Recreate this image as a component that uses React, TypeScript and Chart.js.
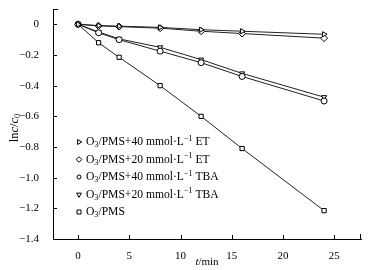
import React, { useEffect, useRef } from "react";
import { Chart, registerables } from "chart.js";

Chart.register(...registerables);

const times = [0, 2, 4, 8, 12, 16, 24];
const et40 = [0, -0.008, -0.012, -0.02, -0.035, -0.045, -0.065];
const et20 = [0, -0.01, -0.015, -0.025, -0.045, -0.06, -0.09];
const tba40 = [0, -0.055, -0.1, -0.175, -0.25, -0.34, -0.5];
const tba20 = [0, -0.05, -0.095, -0.15, -0.23, -0.32, -0.475];
const pms = [0, -0.12, -0.215, -0.4, -0.6, -0.81, -1.215];

const xTickVals = [0, 5, 10, 15, 20, 25];
const yTickVals = [0, -0.2, -0.4, -0.6, -0.8, -1.0, -1.2, -1.4];

type Seg = { t: string; s?: "sub" | "sup"; i?: boolean };

const legendLabels: Seg[][] = [
  [{ t: "O" }, { t: "3", s: "sub" }, { t: "/PMS+40 mmol·L" }, { t: "−1", s: "sup" }, { t: " ET" }],
  [{ t: "O" }, { t: "3", s: "sub" }, { t: "/PMS+20 mmol·L" }, { t: "−1", s: "sup" }, { t: " ET" }],
  [{ t: "O" }, { t: "3", s: "sub" }, { t: "/PMS+40 mmol·L" }, { t: "−1", s: "sup" }, { t: " TBA" }],
  [{ t: "O" }, { t: "3", s: "sub" }, { t: "/PMS+20 mmol·L" }, { t: "−1", s: "sup" }, { t: " TBA" }],
  [{ t: "O" }, { t: "3", s: "sub" }, { t: "/PMS" }],
];

const FONT = "'Liberation Serif', 'Times New Roman', serif";

function segFont(size: number, seg: Seg) {
  const sz = seg.s ? size * 0.7 : size;
  return `${seg.i ? "italic " : ""}${sz}px ${FONT}`;
}

function richWidth(ctx: CanvasRenderingContext2D, segs: Seg[], size: number) {
  let w = 0;
  for (const s of segs) {
    ctx.font = segFont(size, s);
    w += ctx.measureText(s.t).width;
  }
  return w;
}

function drawRich(ctx: CanvasRenderingContext2D, segs: Seg[], x: number, y: number, size: number) {
  let cx = x;
  ctx.textBaseline = "middle";
  ctx.textAlign = "left";
  for (const s of segs) {
    ctx.font = segFont(size, s);
    const dy = s.s === "sub" ? size * 0.25 : s.s === "sup" ? -size * 0.3 : 0;
    ctx.fillText(s.t, cx, y + dy);
    cx += ctx.measureText(s.t).width;
  }
}

const decorPlugin = {
  id: "decor",
  afterDraw(chart: any) {
    const ctx: CanvasRenderingContext2D = chart.ctx;
    const { left, right, top, bottom } = chart.chartArea;
    const xs = chart.scales.x;
    const ys = chart.scales.y;
    ctx.save();
    ctx.strokeStyle = "#000";
    ctx.lineWidth = 1;
    ctx.beginPath();
    xs.ticks.forEach((t: any) => {
      const px = Math.round(xs.getPixelForValue(t.value)) + 0.5;
      ctx.moveTo(px, bottom);
      ctx.lineTo(px, bottom - 4);
    });
    ctx.moveTo(Math.round(right) - 0.5, bottom);
    ctx.lineTo(Math.round(right) - 0.5, bottom - 5);
    ys.ticks.forEach((t: any) => {
      const py = Math.round(ys.getPixelForValue(t.value)) + 0.5;
      ctx.moveTo(left, py);
      ctx.lineTo(left + 4, py);
    });
    ctx.moveTo(left, Math.round(top) + 0.5);
    ctx.lineTo(left + 5, Math.round(top) + 0.5);
    ctx.stroke();

    ctx.fillStyle = "#000";
    const xt: Seg[] = [{ t: "t", i: true }, { t: "/min" }];
    const xw = richWidth(ctx, xt, 11);
    drawRich(ctx, xt, 207 - xw / 2, 262.5, 11);
    const yt: Seg[] = [{ t: "ln" }, { t: "c", i: true }, { t: "/" }, { t: "c", i: true }, { t: "0", s: "sub" }];
    const yw = richWidth(ctx, yt, 12.5);
    ctx.save();
    ctx.translate(15, 128);
    ctx.rotate(-Math.PI / 2);
    drawRich(ctx, yt, -yw / 2, 0, 12.5);
    ctx.restore();

    const ys0 = [142, 159.5, 177, 194.5, 212];
    chart.data.datasets.forEach((ds: any, k: number) => {
      const y = ys0[k];
      const x = 79;
      ctx.save();
      ctx.translate(x, y);
      ctx.rotate(((ds.pointRotation || 0) * Math.PI) / 180);
      ctx.strokeStyle = "#000";
      ctx.fillStyle = "#fff";
      ctx.lineWidth = 1;
      const r = 2;
      ctx.beginPath();
      const st = ds.pointStyle;
      if (st === "circle") {
        ctx.arc(0, 0, r, 0, Math.PI * 2);
      } else if (st === "rect") {
        ctx.rect(-r, -r, 2 * r, 2 * r);
      } else if (st === "rectRot") {
        ctx.moveTo(0, -r * 1.4);
        ctx.lineTo(r * 1.4, 0);
        ctx.lineTo(0, r * 1.4);
        ctx.lineTo(-r * 1.4, 0);
        ctx.closePath();
      } else {
        const R = r * 1.4;
        ctx.moveTo(0, -R);
        ctx.lineTo(R * 0.866, R * 0.5);
        ctx.lineTo(-R * 0.866, R * 0.5);
        ctx.closePath();
      }
      ctx.fill();
      ctx.stroke();
      ctx.restore();
      ctx.fillStyle = "#000";
      drawRich(ctx, legendLabels[k], 86, y, 11.6);
    });
    ctx.restore();
  },
};

function mk(vals: number[]) {
  return times.map((t, i) => ({ x: t, y: vals[i] }));
}

export default function App() {
  const ref = useRef<HTMLCanvasElement>(null);
  useEffect(() => {
    const common = {
      showLine: true,
      borderColor: "#222",
      borderWidth: 1,
      pointBorderColor: "#000",
      pointBackgroundColor: "#fff",
      pointBorderWidth: 1,
      pointRadius: 3,
      tension: 0,
    };
    const chart = new Chart(ref.current!, {
      type: "scatter",
      data: {
        datasets: [
          { ...common, label: "O3/PMS+40 mmol·L-1 ET", data: mk(et40), pointStyle: "triangle", pointRotation: 90 },
          { ...common, label: "O3/PMS+20 mmol·L-1 ET", data: mk(et20), pointStyle: "rectRot", pointRadius: 3.5 },
          { ...common, label: "O3/PMS+40 mmol·L-1 TBA", data: mk(tba40), pointStyle: "circle" },
          { ...common, label: "O3/PMS+20 mmol·L-1 TBA", data: mk(tba20), pointStyle: "triangle", pointRotation: 180 },
          { ...common, label: "O3/PMS", data: mk(pms), pointStyle: "rect" },
        ] as any,
      },
      options: {
        animation: false,
        responsive: true,
        maintainAspectRatio: false,
        layout: { padding: { top: 9, right: 19, left: 0, bottom: 0 } },
        plugins: { legend: { display: false }, tooltip: { enabled: false } },
        scales: {
          x: {
            type: "linear",
            min: -2.45,
            max: 27.6,
            grid: { display: false },
            border: { display: true, color: "#000", width: 1 },
            ticks: {
              padding: 3,
              color: "#000",
              font: { family: FONT, size: 11 },
              maxRotation: 0,
              autoSkip: false,
            },
            afterBuildTicks: (s: any) => {
              s.ticks = xTickVals.map((v) => ({ value: v }));
            },
            afterFit: (s: any) => {
              s.height = 31;
              s.paddingLeft = 0;
              s.paddingRight = 0;
            },
          },
          y: {
            type: "linear",
            min: -1.4,
            max: 0.1,
            grid: { display: false },
            border: { display: true, color: "#000", width: 1 },
            ticks: {
              padding: 6,
              color: "#000",
              autoSkip: false,
              font: { family: FONT, size: 11 },
              callback: (v: any) => {
                const n = Number(v);
                if (Math.abs(n) < 1e-9) return "0";
                return (n < 0 ? "−" : "") + Math.abs(n).toFixed(1);
              },
            },
            afterBuildTicks: (s: any) => {
              s.ticks = yTickVals.map((v) => ({ value: v }));
            },
            afterFit: (s: any) => {
              s.width = 53;
              s.paddingTop = 0;
              s.paddingBottom = 0;
            },
          },
        },
      },
      plugins: [decorPlugin],
    });
    return () => chart.destroy();
  }, []);
  return (
    <div style={{ position: "fixed", left: 0, top: 0, width: 380, height: 270, background: "#fff" }}>
      <canvas ref={ref} />
    </div>
  );
}
